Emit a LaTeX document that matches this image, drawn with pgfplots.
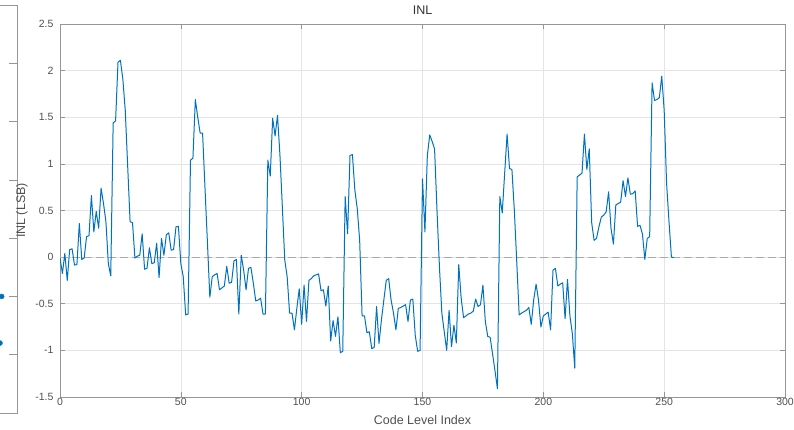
\documentclass[border=0pt]{standalone}
\usepackage{pgfplots}
\pgfplotsset{compat=1.18}
\usepackage{fontspec}
\setmainfont{Liberation Sans}
\definecolor{mblue}{rgb}{0,0.447,0.741}
\definecolor{axgray}{RGB}{150,150,150}
\definecolor{txtgray}{RGB}{80,80,80}
\definecolor{gridgray}{RGB}{228,228,228}
\definecolor{dashgray}{RGB}{170,170,170}
\pgfplotstableread{
x y
0 -0.01
1 -0.175
2 0.04
3 -0.25
4 0.08
5 0.09
6 -0.085
7 -0.08
8 0.36
9 -0.025
10 -0.01
11 0.22
12 0.23
13 0.66
14 0.27
15 0.49
16 0.31
17 0.74
18 0.575
19 0.38
20 -0.07
21 -0.2
22 1.44
23 1.46
24 2.09
25 2.11
26 1.91
27 1.575
28 0.98
29 0.38
30 0.37
31 -0.01
32 0.01
33 0.02
34 0.25
35 -0.13
36 -0.12
37 0.1
38 -0.07
39 -0.06
40 0.15
41 -0.22
42 0.2
43 0.02
44 0.24
45 0.26
46 0.075
47 0.08
48 0.325
49 0.33
50 -0.07
51 -0.21
52 -0.62
53 -0.61
54 1.04
55 1.06
56 1.69
57 1.5
58 1.33
59 1.33
60 0.74
61 0.16
62 -0.43
63 -0.21
64 -0.19
65 -0.175
66 -0.35
67 -0.33
68 -0.31
69 -0.1
70 -0.28
71 -0.27
72 -0.04
73 -0.025
74 -0.61
75 0.02
76 -0.14
77 -0.35
78 -0.12
79 -0.11
80 -0.28
81 -0.47
82 -0.46
83 -0.44
84 -0.61
85 -0.61
86 1.04
87 0.87
88 1.49
89 1.3
90 1.52
91 1.1
92 0.54
93 -0.03
94 -0.21
95 -0.6
96 -0.6
97 -0.78
98 -0.55
99 -0.34
100 -0.72
101 -0.3
102 -0.69
103 -0.25
104 -0.23
105 -0.2
106 -0.19
107 -0.18
108 -0.36
109 -0.35
110 -0.525
111 -0.31
112 -0.9
113 -0.68
114 -0.85
115 -0.64
116 -1.025
117 -1.01
118 0.65
119 0.25
120 1.09
121 1.1
122 0.72
123 0.52
124 0.18
125 -0.63
126 -0.63
127 -0.81
128 -0.8
129 -0.98
130 -0.97
131 -0.53
132 -0.925
133 -0.675
134 -0.46
135 -0.25
136 -0.23
137 -0.46
138 -0.6
139 -0.78
140 -0.55
141 -0.54
142 -0.525
143 -0.51
144 -0.69
145 -0.46
146 -0.45
147 -0.84
148 -1.01
149 -1.0
150 0.84
151 0.27
152 1.09
153 1.31
154 1.24
155 1.16
156 0.5
157 -0.1
158 -0.6
159 -0.8
160 -1.0
161 -0.57
162 -0.96
163 -0.73
164 -0.92
165 -0.08
166 -0.44
167 -0.65
168 -0.63
169 -0.61
170 -0.6
171 -0.58
172 -0.45
173 -0.53
174 -0.51
175 -0.3
176 -0.69
177 -0.85
178 -0.86
179 -1.04
180 -1.22
181 -1.41
182 0.65
183 0.475
184 0.9
185 1.32
186 0.95
187 0.94
188 0.5
189 -0.05
190 -0.62
191 -0.6
192 -0.585
193 -0.57
194 -0.54
195 -0.72
196 -0.46
197 -0.29
198 -0.46
199 -0.75
200 -0.63
201 -0.61
202 -0.59
203 -0.78
204 -0.14
205 -0.12
206 -0.31
207 -0.29
208 -0.275
209 -0.66
210 -0.24
211 -0.63
212 -0.82
213 -1.19
214 0.86
215 0.88
216 0.9
217 1.32
218 0.94
219 1.16
220 0.37
221 0.18
222 0.2
223 0.325
224 0.43
225 0.45
226 0.485
227 0.7
228 0.31
229 0.14
230 0.56
231 0.575
232 0.59
233 0.82
234 0.65
235 0.85
236 0.675
237 0.68
238 0.71
239 0.33
240 0.34
241 0.25
242 -0.025
243 0.2
244 0.22
245 1.87
246 1.68
247 1.69
248 1.71
249 1.94
250 1.575
251 0.79
252 0.38
253 0.0
254 -0.005
}\inltable
\begin{document}
\begin{tikzpicture}[x=1pt,y=1pt]
\useasboundingbox (0,0) rectangle (794,430);
% partial left panel
\begin{axis}[at={(-83pt,17pt)}, anchor=south west, scale only axis,
  width=100pt, height=408pt, xmin=0, xmax=100, ymin=0, ymax=7,
  ytick={1,2,3,4,5,6}, xtick=\empty, yticklabel=\empty,
  ytick pos=right, tick align=inside, major tick length=8pt,
  axis line style={axgray}, tick style={axgray, line width=0.6pt}, clip=false]
\addplot[only marks, mark=*, mark size=2.5pt, mblue] coordinates {(84.7,2.0) (83,1.2)};
\end{axis}
% main axis
\begin{axis}[at={(60pt,33pt)}, anchor=south west, scale only axis,
  width=725pt, height=373pt,
  xmin=0, xmax=300, ymin=-1.5, ymax=2.5,
  xtick={0,50,100,150,200,250,300},
  ytick={-1.5,-1,-0.5,0,0.5,1,1.5,2,2.5},
  grid=major, major grid style={gridgray, line width=0.6pt},
  axis line style={axgray, line width=0.6pt}, tick style={axgray, line width=0.6pt},
  tick align=inside, tick pos=both, major tick length=5pt,
  ticklabel style={font=\fontsize{10.5}{12}\selectfont, text=txtgray},
  /pgf/number format/assume math mode=true,
  xticklabel style={yshift=2pt},
  yticklabel style={xshift=-3pt},
  title={INL},
  title style={at={(rel axis cs:0.5,1)}, anchor=base, yshift=3.5pt, font=\fontsize{12.5}{14}\selectfont, text=black!80},
  xlabel={Code Level Index},
  xlabel style={at={(rel axis cs:0.5,0)}, anchor=base, yshift=-28pt, font=\fontsize{12.5}{14}\selectfont, text=txtgray},
  ylabel={INL (LSB)},
  ylabel style={at={(axis description cs:-0.0524,0.5)}, anchor=center, font=\fontsize{12.5}{14}\selectfont, text=txtgray},
]
\addplot[dashgray, line width=1.2pt, dash pattern=on 8pt off 4pt] coordinates {(0,0) (300,0)};
\addplot[mblue, line width=1pt, line join=round] table[x=x, y=y] {\inltable};
\end{axis}
\end{tikzpicture}
\end{document}
